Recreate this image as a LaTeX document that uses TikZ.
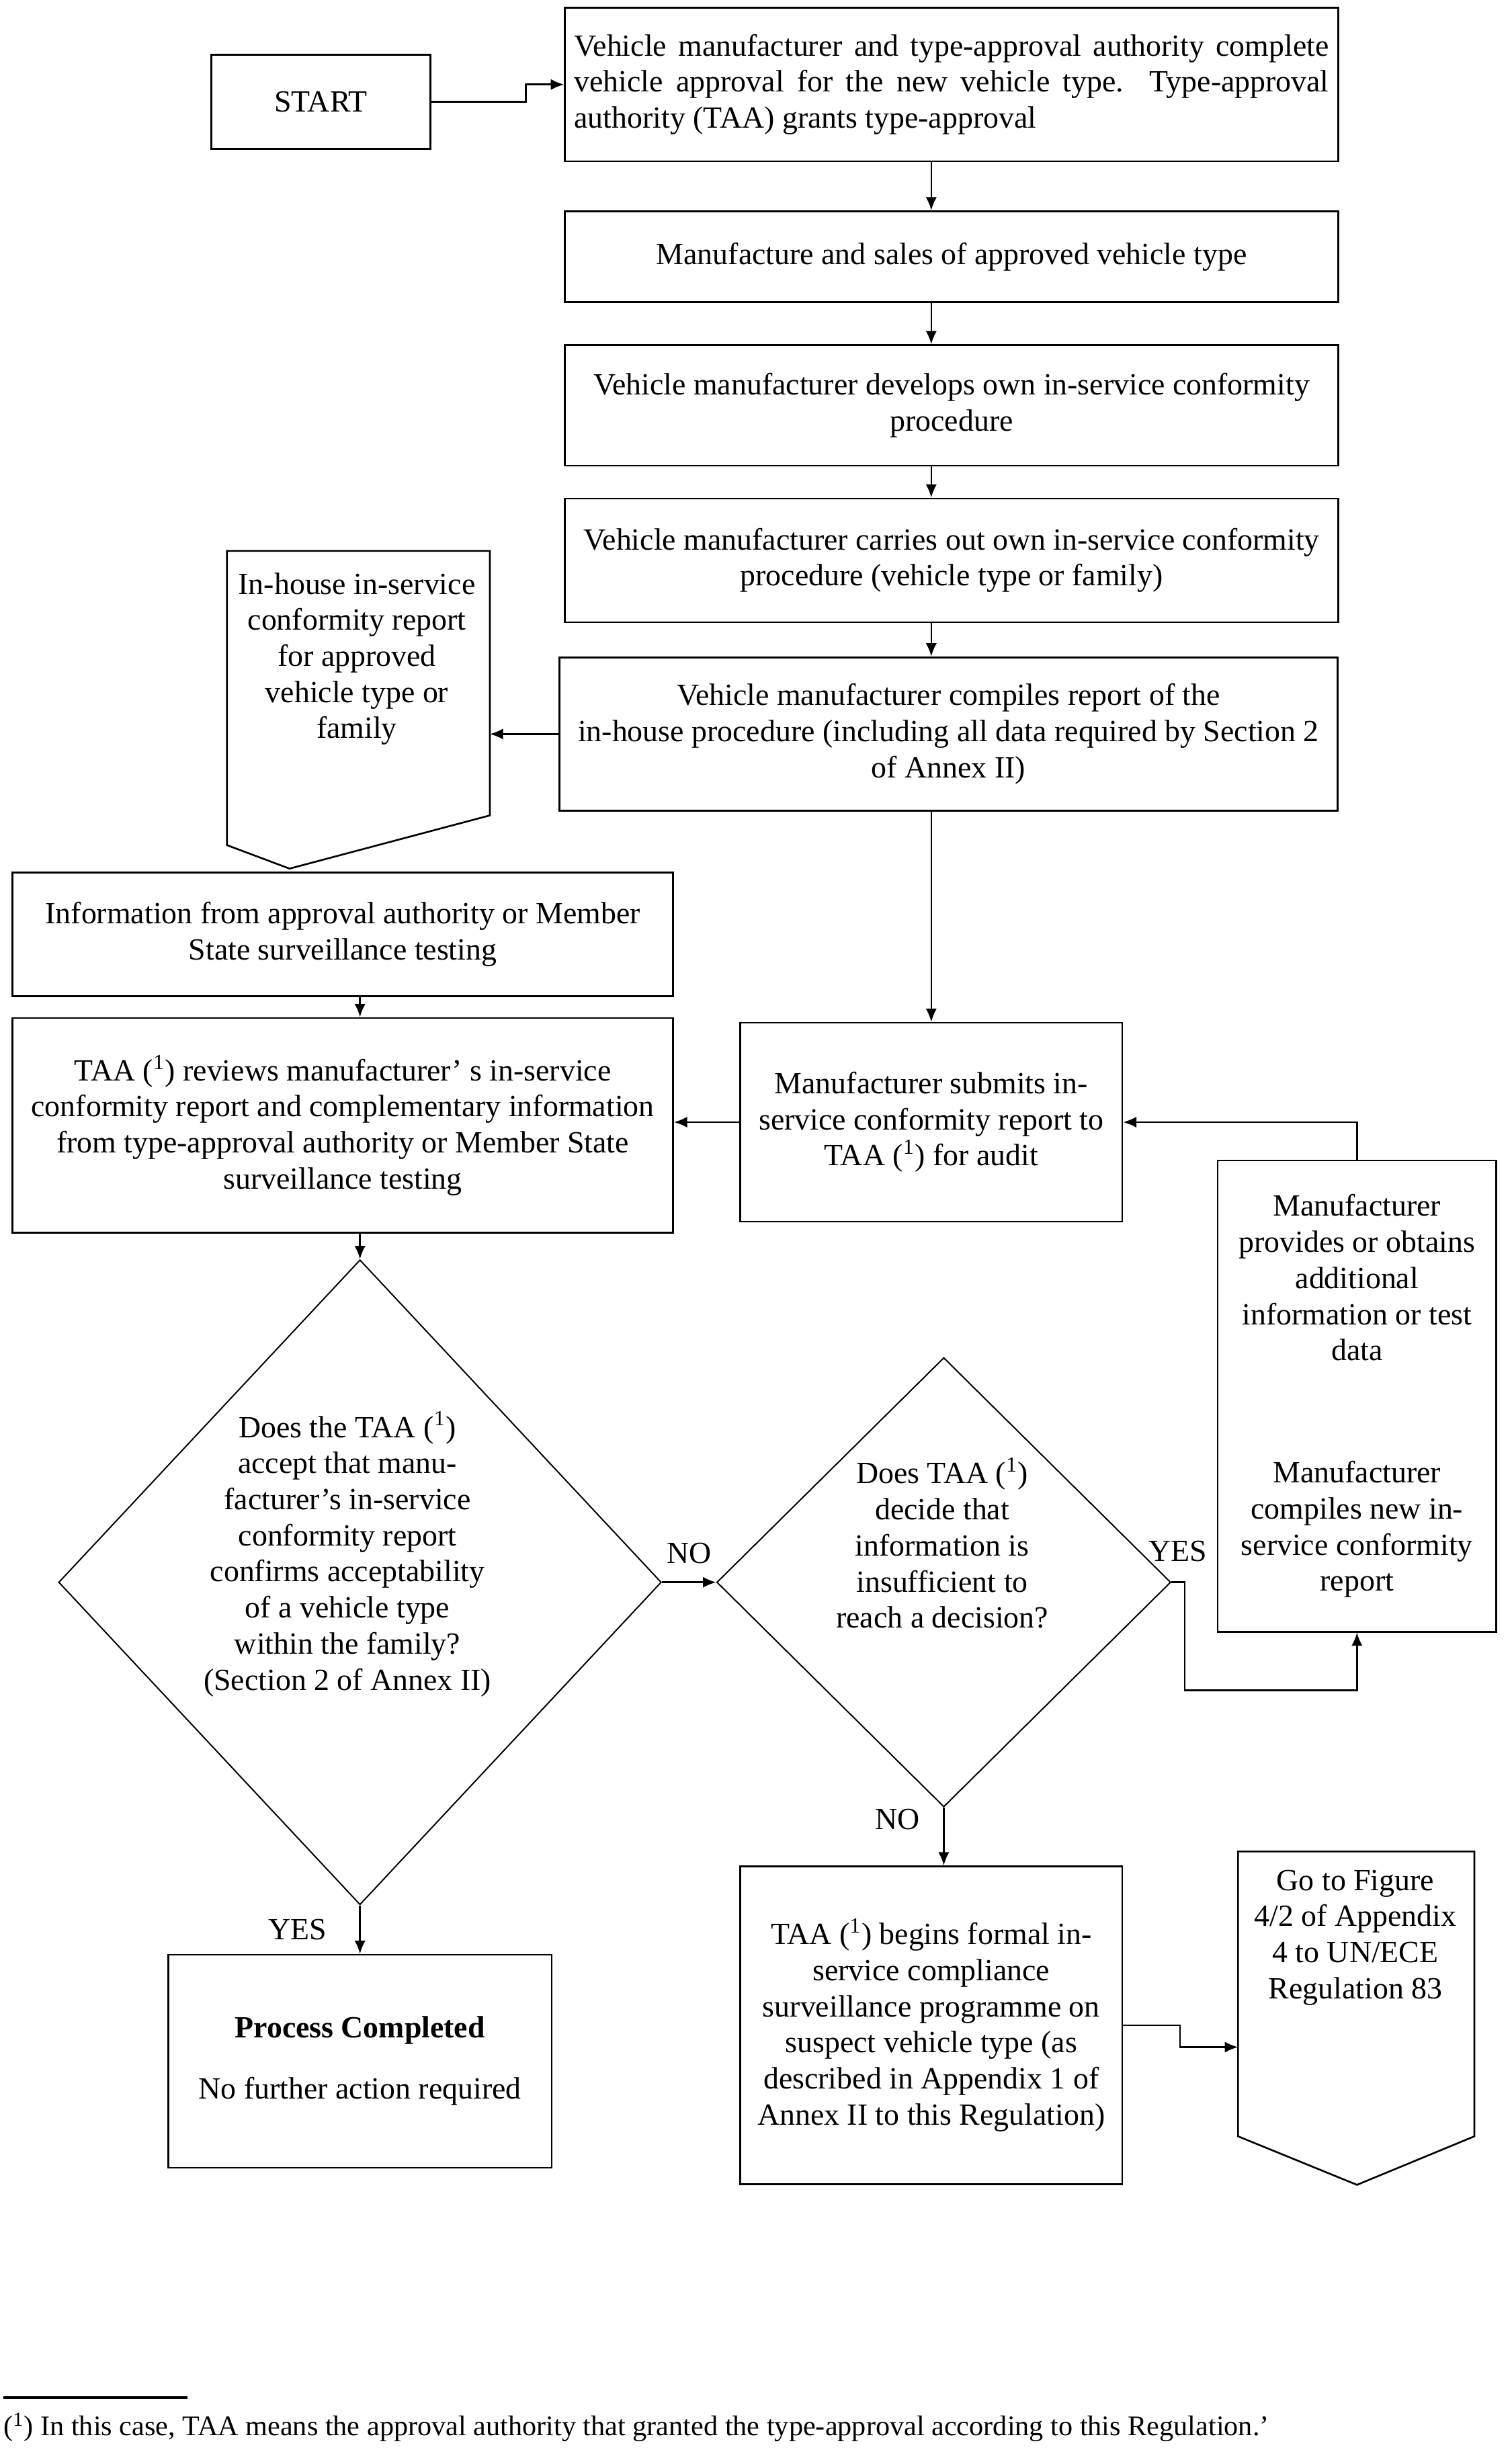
\documentclass[tikz,border=0pt]{standalone}
\usepackage{fontspec}
\setmainfont{Liberation Serif}
\usetikzlibrary{arrows.meta,positioning,shapes.geometric,calc}

\tikzset{
  box/.style={draw, line width=0.8pt, align=center, inner sep=2pt},
  decision/.style={draw, diamond, line width=0.6pt, inner sep=0pt},
  flow/.style={line width=0.8pt, -{Latex[length=6pt,width=5pt]}},
  tag/.style={inner sep=2pt}
}

\begin{document}
\begin{tikzpicture}[x=0.025cm, y=-0.025cm, font=\fontsize{14}{16.4}\selectfont]
  \useasboundingbox (0,0) rectangle (966,1568);
  \coordinate (spine) at (595,0);

  % main column
  \node[box, minimum width=3.5cm, minimum height=1.5cm] (start) at (205,65) {START};
  \node[box, minimum width=12.35cm, minimum height=2.45cm, text width=12.05cm, align=justify] (approval) at (608,54)
    {Vehicle manufacturer and type-approval authority complete\linebreak vehicle approval for the new vehicle type. Type-approval\linebreak authority (TAA) grants type-approval};
  \node[box, minimum width=12.35cm, minimum height=1.45cm] (sales) at (608,164)
    {Manufacture and sales of approved vehicle type};
  \node[box, minimum width=12.35cm, minimum height=1.925cm] (develop) at (608,259)
    {Vehicle manufacturer develops own in-service conformity\\procedure};
  \node[box, minimum width=12.35cm, minimum height=1.975cm] (carry) at (608,358)
    {Vehicle manufacturer carries out own in-service conformity\\procedure (vehicle type or family)};
  \node[box, minimum width=12.425cm, minimum height=2.45cm] (report) at (606,469)
    {Vehicle manufacturer compiles report of the\\in-house procedure (including all data required by Section 2\\of Annex II)};

  % in-house report (document shape)
  \draw[line width=0.8pt] (145,352) -- (313,352) -- (313,521) -- (185,555) -- (145,540) -- cycle;
  \node[align=center] (inhouse) at (228,421)
    {In-house in-service\\conformity report\\for approved\\vehicle type or\\family};
  \coordinate (inhouseE) at (313,469);

  % left column
  \node[box, minimum width=10.55cm, minimum height=1.975cm] (info) at (219,597)
    {Information from approval authority or Member\\State surveillance testing};
  \node[box, minimum width=10.55cm, minimum height=3.425cm] (review) at (219,719)
    {TAA (\textsuperscript{1}) reviews manufacturer’ s in-service\\conformity report and complementary information\\from type-approval authority or Member State\\surveillance testing};
  \node[box, minimum width=6.1cm, minimum height=3.175cm] (submit) at (595,717)
    {Manufacturer submits in-\\service conformity report to\\TAA (\textsuperscript{1}) for audit};
  \node[box, minimum width=4.45cm, minimum height=7.525cm] (provides) at (867,892)
    {Manufacturer\\provides or obtains\\additional\\information or test\\data\\[1.375cm]Manufacturer\\compiles new in-\\service conformity\\report};

  % decisions
  \node[decision, minimum width=9.625cm, minimum height=10.3cm] (accept) at (230,1011) {};
  \node[align=center] (accepttext) at (222,993)
    {Does the TAA (\textsuperscript{1})\\accept that manu-\\facturer’s in-service\\conformity report\\confirms acceptability\\of a vehicle type\\within the family?\\(Section 2 of Annex II)};
  \node[decision, minimum width=7.25cm, minimum height=7.175cm] (enough) at (603,1011) {};
  \node[align=center] (enoughtext) at (602,986)
    {Does TAA (\textsuperscript{1})\\decide that\\information is\\insufficient to\\reach a decision?};
  \coordinate (yesbend) at (757,1080);

  % outcomes
  \node[box, minimum width=6.125cm, minimum height=3.4cm] (done) at (230,1317)
    {\textbf{Process Completed}\\[0.4cm]No further action required};
  \node[box, minimum width=6.1cm, minimum height=5.075cm] (begins) at (595,1294)
    {TAA (\textsuperscript{1}) begins formal in-\\service compliance\\surveillance programme on\\suspect vehicle type (as\\described in Appendix 1 of\\Annex II to this Regulation)};
  \draw[line width=0.8pt] (791,1183) -- (942,1183) -- (942,1365) -- (867,1396) -- (791,1365) -- cycle;
  \node[align=center] (goto) at (866,1238)
    {Go to Figure\\4/2 of Appendix\\4 to UN/ECE\\Regulation 83};
  \coordinate (gotoW) at (791,1308);
  \coordinate (jog1) at (336,60);
  \coordinate (jog2) at (754,1300);

  % connectors
  \draw[flow] (start.east) -| (jog1) |- (approval.west);
  \foreach \a/\b in {approval/sales, sales/develop, develop/carry, carry/report}
    \draw[flow] (\a.south -| spine) -- (\b.north -| spine);
  \draw[flow] (report.south -| submit.north) -- (submit.north);
  \draw[flow] (report.west) -- (inhouseE);
  \draw[flow] (info.south -| accept.north) -- (review.north -| accept.north);
  \draw[flow] (submit.west) -- (submit.west -| review.east);
  \draw[flow] (provides.north) |- (submit.east);
  \draw[flow] (review.south -| accept.north) -- (accept.north);
  \draw[flow] (accept.east) -- node[tag, above=6pt] {NO} (enough.west);
  \draw[flow] (enough.east) -- node[tag, above=7pt] {YES} (enough.east -| yesbend) -- (yesbend) -| (provides.south);
  \draw[flow] (enough.south) -- node[tag, left=0.3cm, pos=0.2] {NO} (enough.south |- begins.north);
  \draw[flow] (accept.south) -- node[tag, left=0.45cm] {YES} (accept.south |- done.north);
  \draw[flow] (begins.east) -| (jog2) |- (gotoW);

  % footnote
  \draw[line width=1.4pt] (2,1532) -- (120,1532);
  \node[anchor=west, inner sep=0pt, font=\fontsize{12.9}{15}\selectfont] (note) at (2,1551)
    {(\textsuperscript{1}) In this case, TAA means the approval authority that granted the type-approval according to this Regulation.’};
\end{tikzpicture}
\end{document}
